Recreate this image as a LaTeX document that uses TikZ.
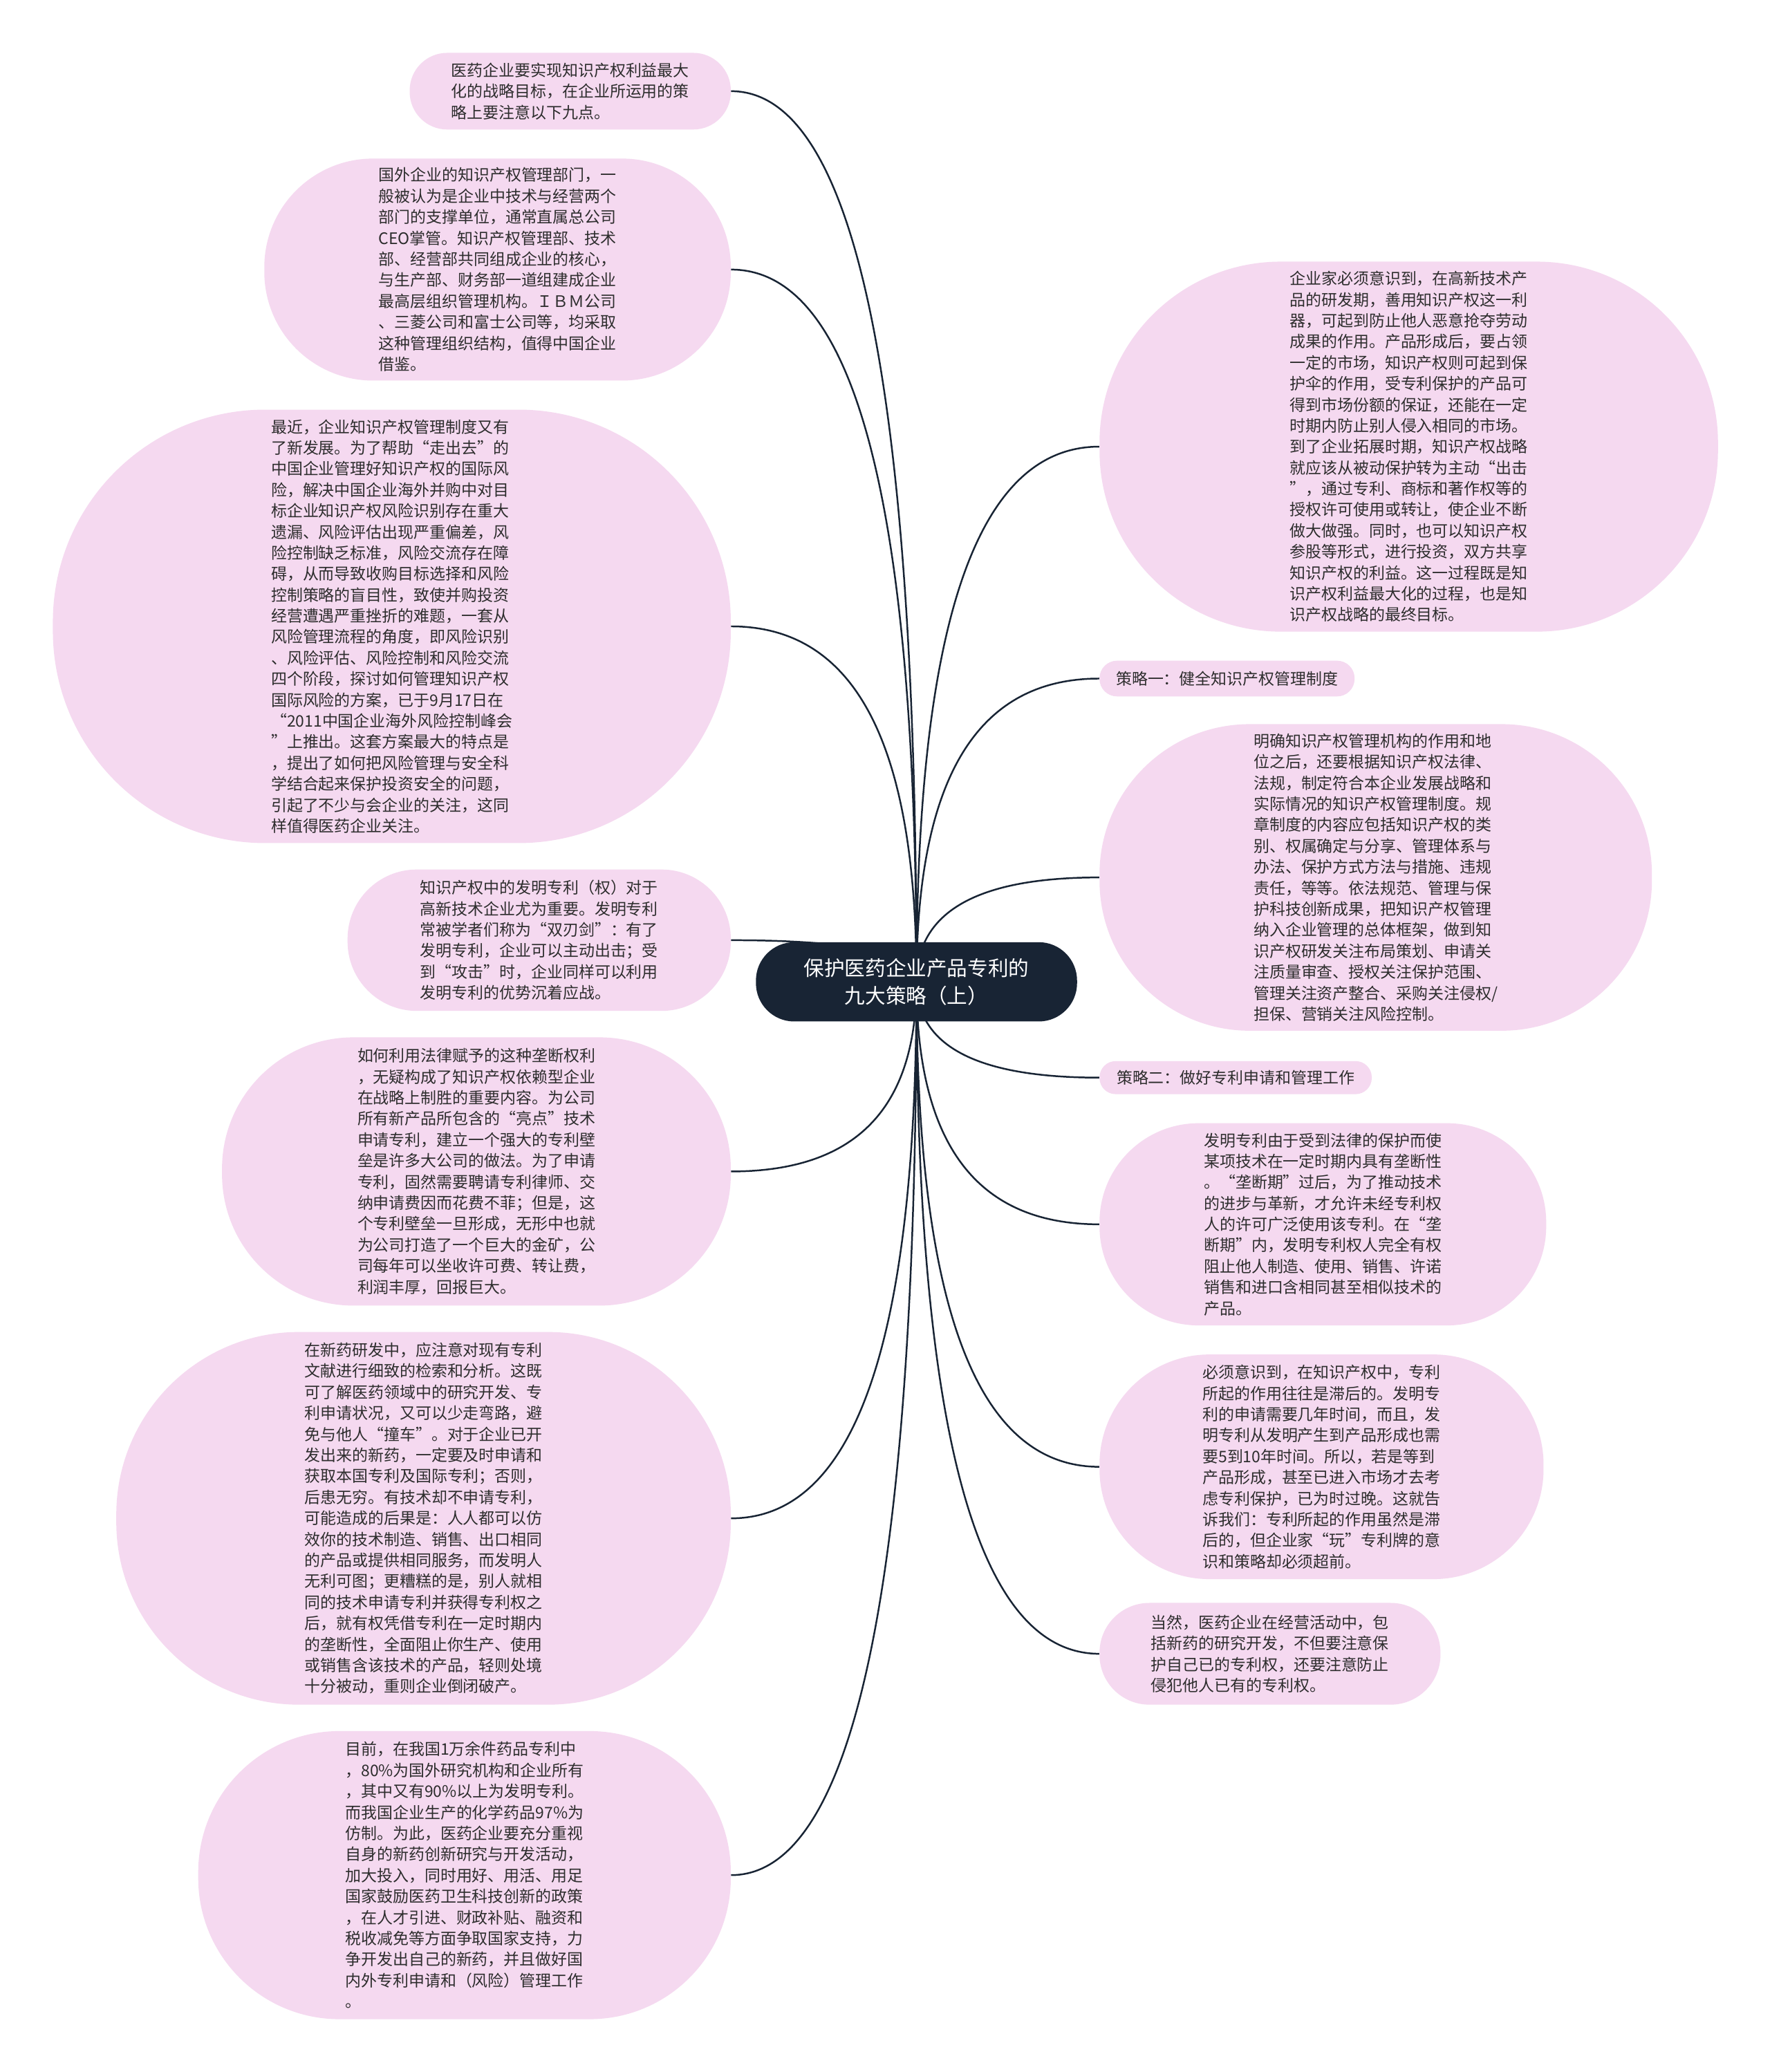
\documentclass[tikz,border=0pt]{standalone}
\usepackage{fontspec}
\setmainfont{Noto Sans CJK SC}
\usetikzlibrary{calc,backgrounds}
\definecolor{bubpink}{RGB}{245,217,240}
\definecolor{rootnavy}{RGB}{24,36,52}
\definecolor{txtgray}{RGB}{45,45,45}

\tikzset{
  bub/.style 2 args={fill=bubpink, text=txtgray, align=left, inner sep=0pt,
    font=\fontsize{12}{15.9}\selectfont,
    minimum width=#1, minimum height=#2, rounded corners=0.49*#2},
  rootbox/.style={fill=rootnavy, text=white, align=center, inner sep=0pt,
    font=\fontsize{15.5}{21}\selectfont,
    minimum width=243pt, minimum height=60pt, rounded corners=29pt},
  link/.style={draw=rootnavy, line width=1.3pt},
}

\begin{document}
\begin{tikzpicture}[x=1pt, y=-1pt]
\useasboundingbox (0,0) rectangle (1339,1568);

% root
\node[rootbox] (root) at (693.5,743) {保护医药企业产品专利的\\九大策略（上）};

% left side
\node[bub={243pt}{58pt}] (n1) at (431.5,69) {医药企业要实现知识产权利益最大\\化的战略目标，在企业所运用的策\\略上要注意以下九点。};
\node[bub={353pt}{168pt}] (n2) at (376.5,204) {国外企业的知识产权管理部门，一\\般被认为是企业中技术与经营两个\\部门的支撑单位，通常直属总公司\\CEO掌管。知识产权管理部、技术\\部、经营部共同组成企业的核心，\\与生产部、财务部一道组建成企业\\最高层组织管理机构。ＩＢＭ公司\\、三菱公司和富士公司等，均采取\\这种管理组织结构，值得中国企业\\借鉴。};
\node[bub={513pt}{328pt}] (n3) at (296.5,474) {最近，企业知识产权管理制度又有\\了新发展。为了帮助“走出去”的\\中国企业管理好知识产权的国际风\\险，解决中国企业海外并购中对目\\标企业知识产权风险识别存在重大\\遗漏、风险评估出现严重偏差，风\\险控制缺乏标准，风险交流存在障\\碍，从而导致收购目标选择和风险\\控制策略的盲目性，致使并购投资\\经营遭遇严重挫折的难题，一套从\\风险管理流程的角度，即风险识别\\、风险评估、风险控制和风险交流\\四个阶段，探讨如何管理知识产权\\国际风险的方案，已于9月17日在\\“2011中国企业海外风险控制峰会\\”上推出。这套方案最大的特点是\\，提出了如何把风险管理与安全科\\学结合起来保护投资安全的问题，\\引起了不少与会企业的关注，这同\\样值得医药企业关注。};
\node[bub={290pt}{107pt}] (n4) at (408,711.5) {知识产权中的发明专利（权）对于\\高新技术企业尤为重要。发明专利\\常被学者们称为“双刃剑”：有了\\发明专利，企业可以主动出击；受\\到“攻击”时，企业同样可以利用\\发明专利的优势沉着应战。};
\node[bub={385pt}{203pt}] (n5) at (360.5,886.5) {如何利用法律赋予的这种垄断权利\\，无疑构成了知识产权依赖型企业\\在战略上制胜的重要内容。为公司\\所有新产品所包含的“亮点”技术\\申请专利，建立一个强大的专利壁\\垒是许多大公司的做法。为了申请\\专利，固然需要聘请专利律师、交\\纳申请费因而花费不菲；但是，这\\个专利壁垒一旦形成，无形中也就\\为公司打造了一个巨大的金矿，公\\司每年可以坐收许可费、转让费，\\利润丰厚，回报巨大。};
\node[bub={465pt}{282pt}] (n6) at (320.5,1149) {在新药研发中，应注意对现有专利\\文献进行细致的检索和分析。这既\\可了解医药领域中的研究开发、专\\利申请状况，又可以少走弯路，避\\免与他人“撞车”。对于企业已开\\发出来的新药，一定要及时申请和\\获取本国专利及国际专利；否则，\\后患无穷。有技术却不申请专利，\\可能造成的后果是：人人都可以仿\\效你的技术制造、销售、出口相同\\的产品或提供相同服务，而发明人\\无利可图；更糟糕的是，别人就相\\同的技术申请专利并获得专利权之\\后，就有权凭借专利在一定时期内\\的垄断性，全面阻止你生产、使用\\或销售含该技术的产品，轻则处境\\十分被动，重则企业倒闭破产。};
\node[bub={403pt}{218pt}] (n7) at (351.5,1419) {目前，在我国1万余件药品专利中\\，80\%为国外研究机构和企业所有\\，其中又有90\%以上为发明专利。\\而我国企业生产的化学药品97\%为\\仿制。为此，医药企业要充分重视\\自身的新药创新研究与开发活动，\\加大投入，同时用好、用活、用足\\国家鼓励医药卫生科技创新的政策\\，在人才引进、财政补贴、融资和\\税收减免等方面争取国家支持，力\\争开发出自己的新药，并且做好国\\内外专利申请和（风险）管理工作\\。};

% right side
\node[bub={468pt}{280pt}] (n8) at (1066,338) {企业家必须意识到，在高新技术产\\品的研发期，善用知识产权这一利\\器，可起到防止他人恶意抢夺劳动\\成果的作用。产品形成后，要占领\\一定的市场，知识产权则可起到保\\护伞的作用，受专利保护的产品可\\得到市场份额的保证，还能在一定\\时期内防止别人侵入相同的市场。\\到了企业拓展时期，知识产权战略\\就应该从被动保护转为主动“出击\\”，通过专利、商标和著作权等的\\授权许可使用或转让，使企业不断\\做大做强。同时，也可以知识产权\\参股等形式，进行投资，双方共享\\知识产权的利益。这一过程既是知\\识产权利益最大化的过程，也是知\\识产权战略的最终目标。};
\node[bub={193pt}{27pt}] (n9) at (928.5,513.5) {策略一：健全知识产权管理制度};
\node[bub={418pt}{232pt}] (n10) at (1041,664) {明确知识产权管理机构的作用和地\\位之后，还要根据知识产权法律、\\法规，制定符合本企业发展战略和\\实际情况的知识产权管理制度。规\\章制度的内容应包括知识产权的类\\别、权属确定与分享、管理体系与\\办法、保护方式方法与措施、违规\\责任，等等。依法规范、管理与保\\护科技创新成果，把知识产权管理\\纳入企业管理的总体框架，做到知\\识产权研发关注布局策划、申请关\\注质量审查、授权关注保护范围、\\管理关注资产整合、采购关注侵权/\\担保、营销关注风险控制。};
\node[bub={206pt}{25pt}] (n11) at (935,815.5) {策略二：做好专利申请和管理工作};
\node[bub={338pt}{153pt}] (n12) at (1001,926.5) {发明专利由于受到法律的保护而使\\某项技术在一定时期内具有垄断性\\。“垄断期”过后，为了推动技术\\的进步与革新，才允许未经专利权\\人的许可广泛使用该专利。在“垄\\断期”内，发明专利权人完全有权\\阻止他人制造、使用、销售、许诺\\销售和进口含相同甚至相似技术的\\产品。};
\node[bub={336pt}{170pt}] (n13) at (1000,1110) {必须意识到，在知识产权中，专利\\所起的作用往往是滞后的。发明专\\利的申请需要几年时间，而且，发\\明专利从发明产生到产品形成也需\\要5到10年时间。所以，若是等到\\产品形成，甚至已进入市场才去考\\虑专利保护，已为时过晚。这就告\\诉我们：专利所起的作用虽然是滞\\后的，但企业家“玩”专利牌的意\\识和策略却必须超前。};
\node[bub={258pt}{77pt}] (n14) at (961,1251.5) {当然，医药企业在经营活动中，包\\括新药的研究开发，不但要注意保\\护自己已的专利权，还要注意防止\\侵犯他人已有的专利权。};

% connectors behind the root
\begin{scope}[on background layer]
\fill[white] (0,0) rectangle (1339,1568);
\foreach \n in {n1,n2,n3,n4,n5,n6,n7}
  \draw[link] (root.center) .. controls ($(root.center)!.67!(root.center |- \n.east)$) and ($(\n.east)!.67!(root.center |- \n.east)$) .. (\n.east);
\foreach \n in {n8,n9,n10,n11,n12,n13,n14}
  \draw[link] (root.center) .. controls ($(root.center)!.67!(root.center |- \n.west)$) and ($(\n.west)!.67!(root.center |- \n.west)$) .. (\n.west);
\end{scope}
\end{tikzpicture}
\end{document}
